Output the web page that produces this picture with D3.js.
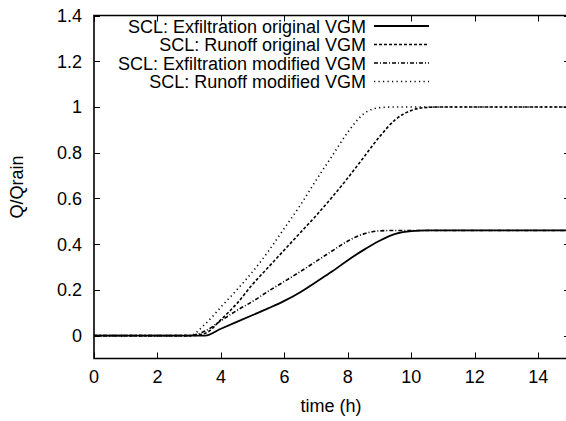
<!DOCTYPE html>
<html>
<head>
<meta charset="utf-8">
<script src="https://cdn.jsdelivr.net/npm/d3@7"></script>
<style>
  html, body { margin: 0; padding: 0; background: #fff; }
  svg { display: block; }
  text { font-family: "Liberation Sans", Arial, Helvetica, sans-serif; fill: #000; }
</style>
</head>
<body>
<script>
// ---- data ----
const times = [0, 1, 2, 3, 3.5, 4, 4.5, 5, 5.5, 6, 6.5, 7, 7.5, 8, 8.5, 9, 9.5, 10, 10.5, 11, 12, 13, 14, 15];
const exfilOriginal = [0, 0, 0, 0, 0, 0.03, 0.06, 0.09, 0.12, 0.152, 0.19, 0.235, 0.28, 0.33, 0.375, 0.415, 0.445, 0.457, 0.46, 0.46, 0.46, 0.46, 0.46, 0.46];
const runoffOriginal = [0, 0, 0, 0, 0.01, 0.07, 0.14, 0.225, 0.3, 0.375, 0.45, 0.525, 0.605, 0.69, 0.78, 0.87, 0.945, 0.985, 0.998, 1, 1, 1, 1, 1];
const exfilModified = [0, 0, 0, 0, 0.02, 0.065, 0.11, 0.15, 0.195, 0.237, 0.28, 0.325, 0.37, 0.414, 0.445, 0.458, 0.46, 0.46, 0.46, 0.46, 0.46, 0.46, 0.46, 0.46];
const runoffModified = [0, 0, 0, 0, 0.05, 0.125, 0.2, 0.28, 0.37, 0.47, 0.57, 0.68, 0.785, 0.89, 0.97, 0.997, 1, 1, 1, 1, 1, 1, 1, 1];
const seriesNames = ["SCL: Exfiltration original VGM", "SCL: Runoff original VGM", "SCL: Exfiltration modified VGM", "SCL: Runoff modified VGM"];
const xTicks = [0, 2, 4, 6, 8, 10, 12, 14];
const yTicks = [0, 0.2, 0.4, 0.6, 0.8, 1, 1.2, 1.4];
const xLabel = "time (h)";
const yLabel = "Q/Qrain";

// ---- layout ----
const W = 566, H = 421;
const pL = 94, pT = 15.5, pB = 358.5, pR = 570;
const x = d3.scaleLinear().domain([0, 15]).range([pL, pR]);
const y = d3.scaleLinear().domain([-0.1, 1.4]).range([pB, pT]);

const svg = d3.select("body").append("svg").attr("width", W).attr("height", H);

const dashes = [null, "3,2", "4,2,1,2", "1.2,3.3"];
const series = [exfilOriginal, runoffOriginal, exfilModified, runoffModified];

svg.append("clipPath").attr("id", "clip").append("rect")
  .attr("x", pL).attr("y", pT).attr("width", pR - pL).attr("height", pB - pT);

// ticks (inward, mirrored)
const tl = 6;
const gT = svg.append("g").attr("stroke", "#000").attr("stroke-width", 1);
xTicks.forEach(t => {
  const px = Math.round(x(t)) + 0.5;
  gT.append("line").attr("x1", px).attr("x2", px).attr("y1", pB).attr("y2", pB - tl);
  gT.append("line").attr("x1", px).attr("x2", px).attr("y1", pT).attr("y2", pT + tl);
});
yTicks.forEach(t => {
  const py = Math.round(y(t)) + 0.5;
  gT.append("line").attr("x1", pL).attr("x2", pL + tl).attr("y1", py).attr("y2", py);
  gT.append("line").attr("x1", pR).attr("x2", pR - tl).attr("y1", py).attr("y2", py);
});

// tick labels
const fs = 18;
svg.append("g").selectAll("text").data(xTicks).join("text")
  .attr("x", d => x(d)).attr("y", 383)
  .attr("text-anchor", "middle").attr("font-size", fs).text(d => d3.format("~g")(d));
svg.append("g").selectAll("text").data(yTicks).join("text")
  .attr("x", 82).attr("y", d => y(d) + 6.5)
  .attr("text-anchor", "end").attr("font-size", fs).text(d => d3.format("~g")(d));

// axis titles
svg.append("text").attr("x", 331).attr("y", 412).attr("text-anchor", "middle")
  .attr("font-size", fs).text(xLabel);
svg.append("text").attr("transform", `translate(23,${(pT + pB) / 2}) rotate(-90)`)
  .attr("text-anchor", "middle").attr("font-size", fs).text(yLabel);

// lines
const line = d3.line().x(d => x(d[0])).y(d => y(d[1])).curve(d3.curveMonotoneX);
const gL = svg.append("g").attr("clip-path", "url(#clip)");
series.forEach((s, i) => {
  gL.append("path")
    .datum(times.map((t, k) => [t, s[k]]))
    .attr("d", line).attr("fill", "none").attr("stroke", "#000")
    .attr("stroke-width", i === 0 ? 1.8 : 1.6)
    .attr("stroke-dasharray", dashes[i]);
});

// border
svg.append("path")
  .attr("d", `M${pR},${pT}H${pL}V${pB}H${pR}`)
  .attr("fill", "none").attr("stroke", "#000").attr("stroke-width", 1.6);

// legend
const lg = svg.append("g");
seriesNames.forEach((name, i) => {
  const cy = 26 + i * 18.5;
  lg.append("text").attr("x", 366).attr("y", cy + 6.5).attr("text-anchor", "end")
    .attr("font-size", fs).text(name);
  lg.append("line").attr("x1", 374).attr("x2", 429).attr("y1", cy).attr("y2", cy)
    .attr("stroke", "#000").attr("stroke-width", i === 0 ? 1.8 : 1.6)
    .attr("stroke-dasharray", dashes[i]);
});
</script>
</body>
</html>
